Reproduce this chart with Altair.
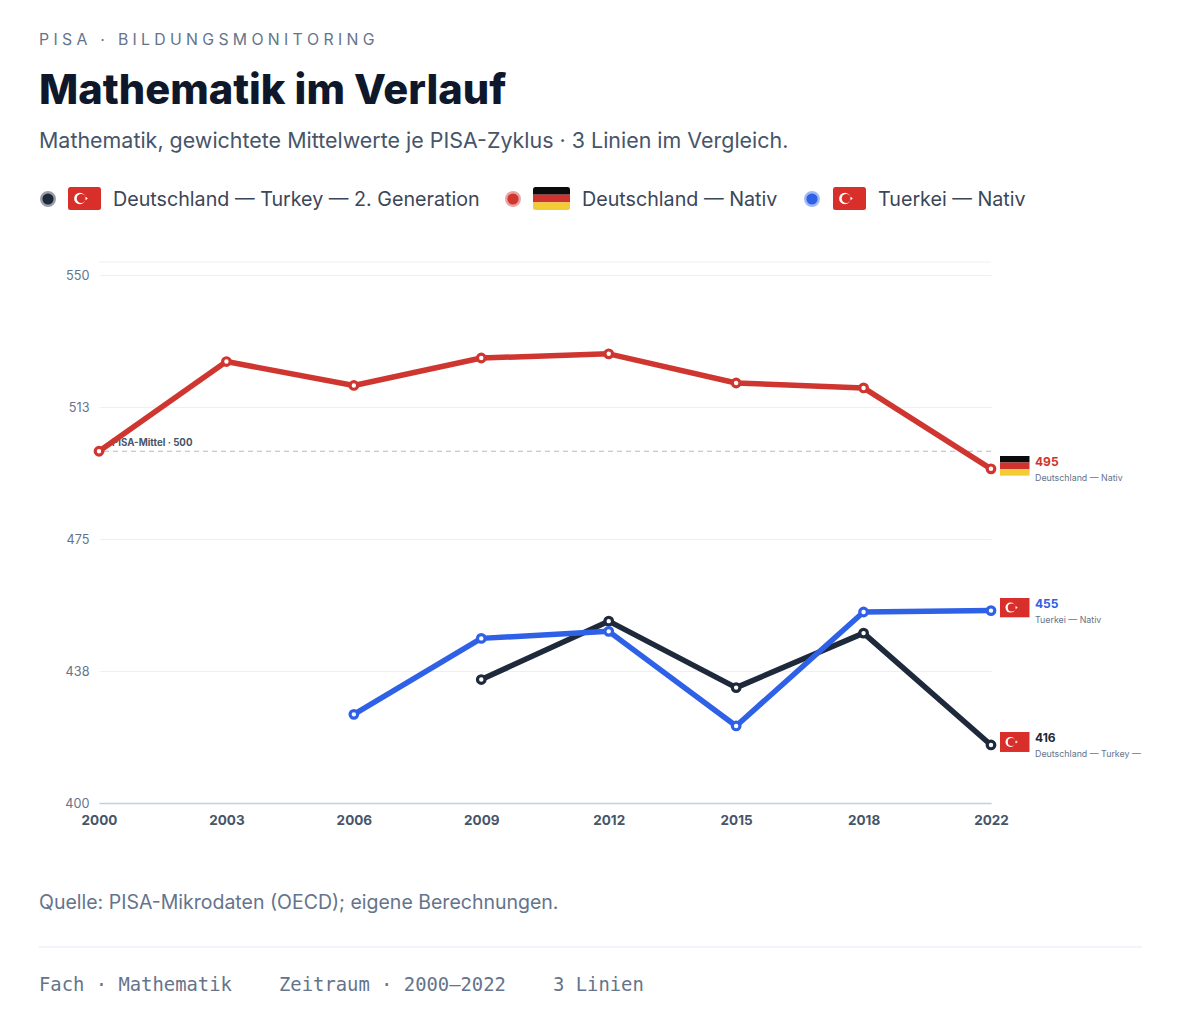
import urllib.parse
import altair as alt
import pandas as pd

YEARS = ["2000", "2003", "2006", "2009", "2012", "2015", "2018", "2022"]
SERIES_NAMES = ["Deutschland — Turkey — 2. Generation", "Deutschland — Nativ", "Tuerkei — Nativ"]
VALUES_BLACK = [None, None, None, 435.1, 451.7, 432.8, 448.3, 416.5]
VALUES_RED = [500.0, 525.5, 518.7, 526.5, 527.7, 519.4, 518.0, 495.0]
VALUES_BLUE = [None, None, 425.2, 446.8, 448.8, 421.9, 454.3, 454.7]
END_LABELS = ["416", "495", "455"]
COLORS = ["#1e293b", "#cf3630", "#2f61e6"]
Y_TICKS = [400, 437.5, 475, 512.5, 550]
EYEBROW = "PISA · BILDUNGSMONITORING"

PLOT_L, PLOT_T, W, H = 99, 262, 892, 541
FONT = "Inter"
MONO = "DejaVu Sans Mono"


def flag_uri(kind, w, h, r):
    if kind == "de":
        body = (f'<rect width="{w}" height="{h/3}" fill="#0b0b0b"/>'
                f'<rect y="{h/3}" width="{w}" height="{h/3}" fill="#d0322d"/>'
                f'<rect y="{2*h/3}" width="{w}" height="{h/3}" fill="#f3cb35"/>')
    else:
        cx, cy, R = w * 0.36, h / 2, h * 0.25
        sx = w * 0.555
        s = h * 0.085
        star = (f'<polygon fill="#fff" points="{sx+s:.2f},{cy:.2f} {sx-.81*s:.2f},{cy-.59*s:.2f} '
                f'{sx+.31*s:.2f},{cy+.95*s:.2f} {sx+.31*s:.2f},{cy-.95*s:.2f} {sx-.81*s:.2f},{cy+.59*s:.2f}"/>')
        body = (f'<rect width="{w}" height="{h}" fill="#d92f2a"/>'
                f'<circle cx="{cx}" cy="{cy}" r="{R}" fill="#fff"/>'
                f'<circle cx="{cx+R*0.25}" cy="{cy}" r="{R*0.8}" fill="#d92f2a"/>' + star)
    svg = (f'<svg xmlns="http://www.w3.org/2000/svg" width="{w}" height="{h}" viewBox="0 0 {w} {h}">'
           f'<clipPath id="c"><rect width="{w}" height="{h}" rx="{r}" ry="{r}"/></clipPath>'
           f'<g clip-path="url(#c)">{body}</g></svg>')
    return "data:image/svg+xml," + urllib.parse.quote(svg)


def one(**row):
    return alt.Chart(pd.DataFrame([row]))


def txt(text, px, py, size, color, weight=400, font=FONT):
    return one(t=text).mark_text(align="left", baseline="middle", fontSize=size, color=color,
                                 fontWeight=weight, font=font).encode(
        text="t:N", x=alt.value(px - PLOT_L), y=alt.value(py - PLOT_T))


def flag(kind, px0, py0, w, h, r):
    return one(t=0).mark_image(url=flag_uri(kind, w, h, r), width=w, height=h).encode(
        x=alt.value(px0 + w / 2 - PLOT_L), y=alt.value(py0 + h / 2 - PLOT_T))


def page_rule(px0, px1, py, color, width=1):
    return one(t=0).mark_rule(color=color, strokeWidth=width).encode(
        x=alt.value(px0 - PLOT_L), x2=alt.value(px1 - PLOT_L), y=alt.value(py - PLOT_T))


x_scale = alt.Scale(type="point", domain=YEARS, padding=0)
x_enc = alt.X("year:O", sort=YEARS, scale=x_scale,
              axis=alt.Axis(title=None, labelAngle=0, ticks=False, domain=True, domainColor="#c3cede",
                            domainWidth=1.5, labelFontSize=13.5, labelFontWeight=700, labelColor="#475569",
                            labelFont=FONT, labelPadding=10, grid=False))
y_scale = alt.Scale(domain=[400, 553.8], nice=False, zero=False)
y_enc = alt.Y("v:Q", scale=y_scale,
              axis=alt.Axis(title=None, values=Y_TICKS, format=".0f", ticks=False, domain=False, grid=True,
                            gridColor="#eceff3", gridWidth=1, labelFontSize=12.7, labelColor="#64748b",
                            labelFont=FONT, labelPadding=10))

top_rule = one(v=553.8).mark_rule(color="#eceff3").encode(y=y_enc)
mean_rule = one(v=500).mark_rule(color="#b4bcc8", strokeDash=[5, 4], strokeWidth=1).encode(y=y_enc)
mean_text = one(v=500, t="PISA-Mittel · 500").mark_text(
    align="left", baseline="middle", dx=13, dy=-8, fontSize=9.7, fontWeight=700, color="#475569",
    font=FONT).encode(x=alt.value(0), y=y_enc, text="t:N")

layers = [top_rule, mean_rule, mean_text]

all_values = [VALUES_BLACK, VALUES_RED, VALUES_BLUE]
kinds = ["tr", "de", "tr"]
for name, vals, color, lab, kind in zip(SERIES_NAMES, all_values, COLORS, END_LABELS, kinds):
    df = pd.DataFrame({"year": YEARS, "v": vals}).dropna()
    base = alt.Chart(df).encode(x=x_enc, y=y_enc)
    layers.append(base.mark_line(color=color, strokeWidth=5.5, strokeJoin="round"))
    layers.append(base.mark_point(shape="circle", filled=True, fill="white", stroke=color, strokeWidth=3.2,
                                  size=58, opacity=1))
    end = alt.Chart(pd.DataFrame({"year": [YEARS[-1]], "v": [vals[-1]], "lab": [lab], "sub": [name]})).encode(
        x=x_enc, y=y_enc)
    layers.append(end.mark_image(url=flag_uri(kind, 30, 20, 0), width=30, height=20, xOffset=23.7, yOffset=-3))
    layers.append(end.mark_text(align="left", baseline="middle", dx=44, dy=-6.5, fontSize=12, fontWeight=700,
                                color=color, font=FONT).encode(text="lab:N"))
    layers.append(end.mark_text(align="left", baseline="middle", dx=44, dy=9.5, fontSize=8.85, color="#64748b",
                                font=FONT).encode(text="sub:N"))

# Header: Vega text has no letter spacing, so the tracking is set with thin spaces.
layers += [
    txt("\u2009\u200a".join(EYEBROW), 39, 40, 15.8, "#64748b"),
    txt("Mathematik im Verlauf", 39, 91.5, 41.6, "#0f172a", weight=800),
    txt("Mathematik, gewichtete Mittelwerte je PISA-Zyklus · 3 Linien im Vergleich.", 39, 142, 21.45, "#475569"),
]
# Legend
for dot_x, fx, fw, kind, tx, name, color in zip(
        [48, 513, 812], [68, 533, 833], [33, 37, 33], kinds, [113, 582, 878], SERIES_NAMES, COLORS):
    dot = one(t=0).encode(x=alt.value(dot_x - PLOT_L), y=alt.value(199 - PLOT_T))
    layers.append(dot.mark_point(shape="circle", filled=True, fill=color, size=254, opacity=0.45))
    layers.append(dot.mark_point(shape="circle", filled=True, fill=color, size=125, opacity=1))
    layers.append(flag(kind, fx, 187, fw, 23, 2.5))
    layers.append(txt(name, tx, 200, 19.7, "#3b4658"))
# Footer
layers += [
    txt("Quelle: PISA-Mikrodaten (OECD); eigene Berechnungen.", 39, 903, 19.5, "#64748b"),
    page_rule(39, 1142, 947, "#e2e8f0"),
    txt("Fach · Mathematik", 39, 985, 18.85, "#64748b", font=MONO),
    txt("Zeitraum · 2000—2022", 279, 985, 18.85, "#64748b", font=MONO),
    txt("3 Linien", 553, 985, 18.85, "#64748b", font=MONO),
]

chart = alt.layer(*layers).properties(
    width=W, height=H,
    autosize=alt.AutoSizeParams(type="none"),
    padding={"left": PLOT_L - 8, "top": PLOT_T - 8, "right": 1142 - (PLOT_L + W), "bottom": 205},
    background="white",
).configure_view(stroke=None)

chart.save("out.html", embed_options={"renderer": "svg", "actions": False})
